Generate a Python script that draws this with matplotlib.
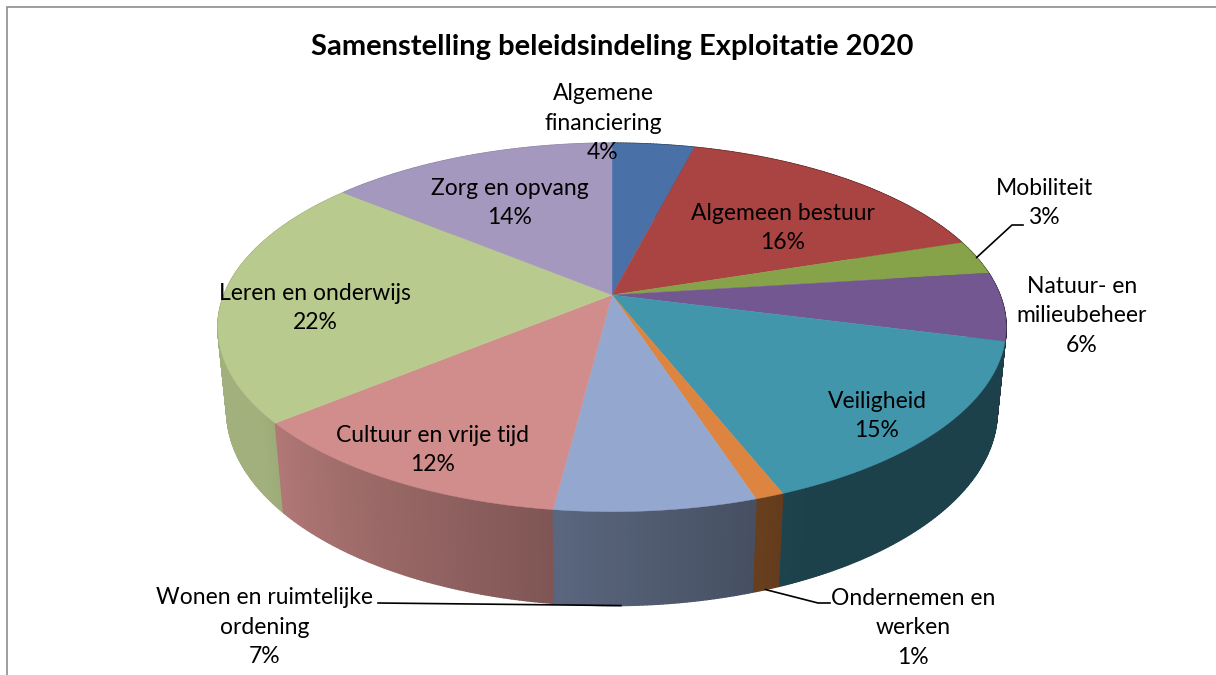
import numpy as np
import matplotlib
matplotlib.use("Agg")
import matplotlib.pyplot as plt
from matplotlib.collections import PolyCollection
from matplotlib.patches import Polygon
from matplotlib.colors import to_rgb

# Beleidsindeling exploitatie 2020 (aandeel in %)
categories = [
    "Algemene\nfinanciering",
    "Algemeen bestuur",
    "Mobiliteit",
    "Natuur- en\nmilieubeheer",
    "Veiligheid",
    "Ondernemen en\nwerken",
    "Wonen en ruimtelijke\nordening",
    "Cultuur en vrije tijd",
    "Leren en onderwijs",
    "Zorg en opvang",
]
percentages = [4, 16, 3, 6, 15, 1, 7, 12, 22, 14]
colors = ["#4a70a8", "#aa4442", "#87a34a", "#735791", "#4196ac",
          "#dd8540", "#94a8cf", "#d08d8b", "#b9ca8f", "#a598be"]

# label placement (pixel positions of the text block centres)
label_pos = [(603, 123), (783, 228), (1044, 203), (1082, 316), (877, 416),
             (913, 628), (265, 627), (433, 450), (315, 308), (510, 203)]

FONT = "Lato"
W, H = 1216, 675

# 3D pie geometry
CX, CY = 612, 295
RPX = 388
ELEV = np.radians(27.4)
DIST = 5.05
THICK = 0.245


def project(theta, r=1.0, z=0.0):
    t = np.radians(theta)
    x = r * np.sin(t)
    y = r * np.cos(t)
    v = y * np.sin(ELEV) + z * np.cos(ELEV)
    d = y * np.cos(ELEV) - z * np.sin(ELEV)
    s = DIST / (DIST + d)
    return CX + x * s * RPX, CY - v * s * RPX


def wall_shade(theta):
    return np.clip(0.61 + 0.0055 * (theta - 187), 0.43, 0.87)


fig = plt.figure(figsize=(W / 100, H / 100), dpi=100)
ax = fig.add_axes([0, 0, 1, 1])
ax.set_xlim(0, W)
ax.set_ylim(H, 0)
ax.axis("off")

# chart frame
ax.plot([7, 7, W], [H, 7, 7], color="#8c8c8c", lw=1.2, solid_joinstyle="miter")

bounds = np.concatenate([[0], np.cumsum(percentages)]) * 3.6

# outer walls, drawn back to front
quads, qcols, depth = [], [], []
for i, col in enumerate(colors):
    base = np.array(to_rgb(col))
    a0, a1 = bounds[i], bounds[i + 1]
    n = max(2, int((a1 - a0) / 0.5))
    ts = np.linspace(a0, a1, n + 1)
    for t0, t1 in zip(ts[:-1], ts[1:]):
        p0 = project(t0)
        p1 = project(t1)
        q1 = project(t1, z=-THICK)
        q0 = project(t0, z=-THICK)
        quads.append([p0, p1, q1, q0])
        qcols.append(base * wall_shade(0.5 * (t0 + t1)))
        depth.append(np.cos(np.radians(0.5 * (t0 + t1))))
order = np.argsort(depth)[::-1]
ax.add_collection(PolyCollection([quads[k] for k in order],
                                 facecolors=[qcols[k] for k in order],
                                 edgecolors=[qcols[k] for k in order],
                                 linewidths=1.0))

# top faces
for i, col in enumerate(colors):
    a0, a1 = bounds[i], bounds[i + 1]
    ts = np.linspace(a0, a1, max(3, int(a1 - a0) * 2))
    pts = [project(0, r=0)] + [project(t) for t in ts]
    ax.add_patch(Polygon(pts, closed=True, facecolor=col, edgecolor=col, lw=0.3))

# labels
for name, pct, (lx, ly) in zip(categories, percentages, label_pos):
    ax.text(lx, ly, f"{name}\n{pct}%", ha="center", va="center",
            fontsize=16.5, family=FONT, color="black", linespacing=1.49)

# leader lines for the small slices
mob = project(0.5 * (bounds[2] + bounds[3]))
ax.plot([mob[0], 1012, 1023], [mob[1], 225, 225], color="black", lw=1.2)
ond = project(0.5 * (bounds[5] + bounds[6]), z=-THICK)
ax.plot([ond[0], 818, 830], [ond[1], 603, 603], color="black", lw=1.2)
won = project(bounds[6] + 0.67 * (bounds[7] - bounds[6]), z=-THICK)
ax.plot([378, won[0]], [603, won[1]], color="black", lw=1.2)

ax.text(612, 47, "Samenstelling beleidsindeling Exploitatie 2020",
        ha="center", va="center", fontsize=21, fontweight="bold",
        family=FONT, color="black")

fig.savefig("out.png", dpi=100)
